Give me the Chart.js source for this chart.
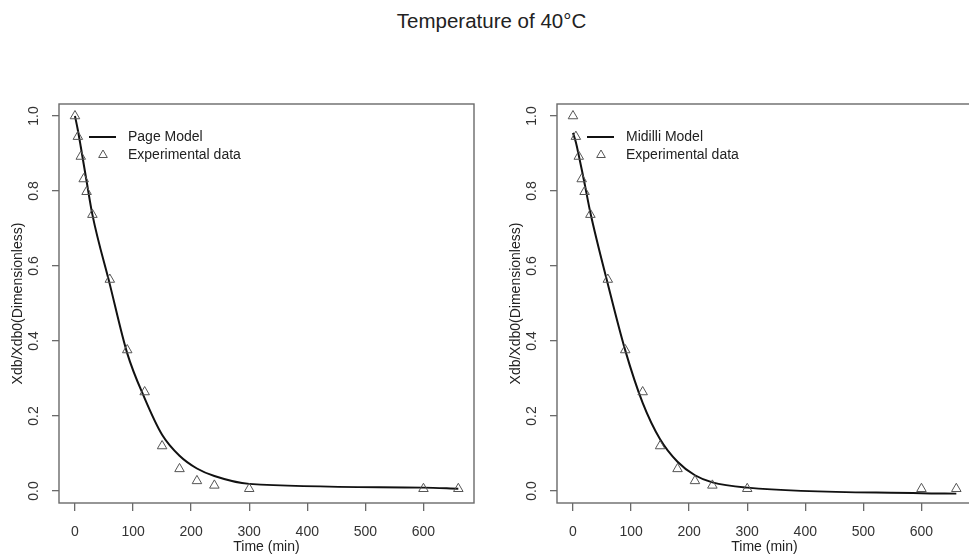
<!DOCTYPE html>
<html>
<head>
<meta charset="utf-8">
<script src="https://cdn.jsdelivr.net/npm/chart.js@4.4.1/dist/chart.umd.min.js"></script>
<style>
  html, body { margin: 0; padding: 0; background: #fff; overflow: hidden; }
  #wrap { position: relative; width: 969px; height: 554px; overflow: hidden; }
  #title {
    position: absolute; left: 0; top: 9px; width: 983px; text-align: center;
    font: 20.5px "Liberation Sans", Arial, sans-serif; color: #222;
  }
  .panel { position: absolute; top: 0; width: 484px; height: 554px; }
</style>
</head>
<body>
<div id="wrap">
  <div id="title">Temperature of 40°C</div>
  <div class="panel" style="left:0px"><canvas id="pageChart"></canvas></div>
  <div class="panel" style="left:498px"><canvas id="midilliChart"></canvas></div>
</div>
<script>
// drying time (min)
var times = [0, 5, 10, 15, 20, 30, 60, 90, 120, 150, 180, 210, 240, 300, 600, 660];
// experimental moisture ratio Xdb/Xdb0
var experimental = [1.0, 0.945, 0.892, 0.832, 0.798, 0.737, 0.564, 0.376, 0.264, 0.120, 0.059, 0.027, 0.015, 0.006, 0.006, 0.006];
// fitted models at the same times
var pageModel = [1.0, 0.962, 0.918, 0.872, 0.826, 0.737, 0.551, 0.367, 0.247, 0.150, 0.094, 0.060, 0.040, 0.019, 0.009, 0.006];
var midilliModel = [0.955, 0.930, 0.895, 0.858, 0.820, 0.742, 0.552, 0.375, 0.235, 0.138, 0.078, 0.042, 0.023, 0.009, -0.006, -0.007];

var xTicks = [0, 100, 200, 300, 400, 500, 600];
var yTicks = [0, 0.2, 0.4, 0.6, 0.8, 1.0];

var FONT = "'Liberation Sans', Arial, sans-serif";
var AXIS_GREY = '#6a6a6a';

function points(ys) {
  return times.map(function(t, i) { return { x: t, y: ys[i] }; });
}

// plot frame + inset legend, R style
var frameLegend = {
  id: 'frameLegend',
  afterDraw: function(chart) {
    var ctx = chart.ctx, a = chart.chartArea;
    ctx.save();
    ctx.strokeStyle = AXIS_GREY;
    ctx.lineWidth = 1.4;
    ctx.strokeRect(a.left, a.top, a.right - a.left, a.bottom - a.top);

    var ds = chart.data.datasets;
    var lx = a.left, ly = a.top;
    ctx.strokeStyle = '#111';
    ctx.lineWidth = 2;
    ctx.beginPath();
    ctx.moveTo(lx + 30, ly + 33);
    ctx.lineTo(lx + 57, ly + 33);
    ctx.stroke();
    ctx.strokeStyle = '#555';
    ctx.fillStyle = 'rgba(0,0,0,0)';
    ctx.lineWidth = 1;
    Chart.helpers.drawPoint(ctx, {
      pointStyle: 'triangle', radius: 5, borderWidth: 1
    }, lx + 44, ly + 51);
    ctx.fillStyle = '#222';
    ctx.font = '14px ' + FONT;
    ctx.textBaseline = 'middle';
    ctx.textAlign = 'left';
    ctx.fillText(ds[0].label, lx + 69, ly + 33);
    ctx.fillText(ds[1].label, lx + 69, ly + 51);
    ctx.restore();
  }
};

function makeChart(id, modelLabel, modelValues) {
  return new Chart(document.getElementById(id), {
    type: 'scatter',
    data: {
      datasets: [{
        label: modelLabel,
        data: points(modelValues),
        showLine: true,
        borderColor: '#111',
        borderWidth: 2,
        pointRadius: 0,
        cubicInterpolationMode: 'monotone',
        order: 1
      }, {
        label: 'Experimental data',
        data: points(experimental),
        showLine: false,
        pointStyle: 'triangle',
        pointRadius: 5.5,
        pointBorderWidth: 1,
        pointBorderColor: '#555',
        pointBackgroundColor: 'rgba(0,0,0,0)',
        order: 0
      }]
    },
    options: {
      responsive: false,
      animation: false,
      devicePixelRatio: 1,
      layout: { padding: { top: 104, right: 10, bottom: 0, left: 0 } },
      plugins: {
        legend: { display: false },
        tooltip: { enabled: false }
      },
      scales: {
        x: {
          type: 'linear',
          min: -27.5,
          max: 687,
          afterBuildTicks: function(s) { s.ticks = xTicks.map(function(v) { return { value: v }; }); },
          afterFit: function(s) { s.height = 51; },
          border: { display: false },
          grid: { drawOnChartArea: false, drawTicks: true, tickLength: 8, color: AXIS_GREY, lineWidth: 1.3 },
          ticks: {
            color: '#333', padding: 13, maxRotation: 0, autoSkip: false,
            font: { family: FONT, size: 14 },
            callback: function(v) { return String(v); }
          },
          title: {
            display: true, text: 'Time (min)', color: '#222',
            font: { family: FONT, size: 14, lineHeight: 1 },
            padding: { top: 0, bottom: 0 }
          }
        },
        y: {
          type: 'linear',
          min: -0.032,
          max: 1.032,
          afterBuildTicks: function(s) { s.ticks = yTicks.map(function(v) { return { value: v }; }); },
          afterFit: function(s) { s.width = 59; },
          border: { display: false },
          grid: { drawOnChartArea: false, drawTicks: true, tickLength: 7, color: AXIS_GREY, lineWidth: 1.3 },
          ticks: {
            color: '#333', padding: 8, minRotation: 90, maxRotation: 90, crossAlign: 'center', autoSkip: false,
            font: { family: FONT, size: 14 },
            callback: function(v) { return v.toFixed(1); }
          },
          title: {
            display: true, text: 'Xdb/Xdb0(Dimensionless)', color: '#222',
            font: { family: FONT, size: 14, lineHeight: 1 },
            padding: { top: 11, bottom: 0 }
          }
        }
      }
    },
    plugins: [frameLegend]
  });
}

var pageCanvas = document.getElementById('pageChart');
var midCanvas = document.getElementById('midilliChart');
[pageCanvas, midCanvas].forEach(function(c) { c.width = 484; c.height = 554; c.style.width = '484px'; c.style.height = '554px'; });

makeChart('pageChart', 'Page Model', pageModel);
makeChart('midilliChart', 'Midilli Model', midilliModel);
</script>
</body>
</html>
